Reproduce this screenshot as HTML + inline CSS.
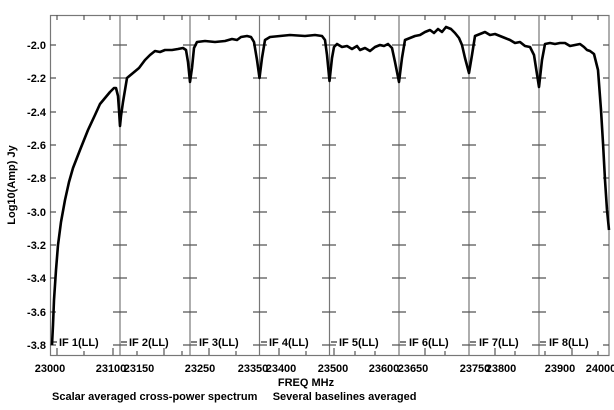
<!DOCTYPE html>
<html><head><meta charset="utf-8"><style>
body{margin:0;background:#fff;}
svg text{font-family:"Liberation Sans",sans-serif;font-weight:bold;fill:#000;}
</style></head><body>
<svg width="614" height="405" viewBox="0 0 614 405" xmlns="http://www.w3.org/2000/svg">
<rect x="0" y="0" width="614" height="405" fill="#fff"/>
<g stroke="#777" stroke-width="1.2" fill="none">
<rect x="50.5" y="15.5" width="558.5" height="340"/>
<line x1="120" y1="15" x2="120" y2="355"/>
<line x1="190" y1="15" x2="190" y2="355"/>
<line x1="259.5" y1="15" x2="259.5" y2="355"/>
<line x1="329.5" y1="15" x2="329.5" y2="355"/>
<line x1="399" y1="15" x2="399" y2="355"/>
<line x1="469" y1="15" x2="469" y2="355"/>
<line x1="539" y1="15" x2="539" y2="355"/>
</g>
<g stroke="#555" stroke-width="1.2">
<path d="M50 45h6M50 78h6M50 112h6M50 145h6M50 178h6M50 212h6M50 245h6M50 278h6M50 312h6M50 345h6
M113 45h14M113 78h14M113 112h14M113 145h14M113 178h14M113 212h14M113 245h14M113 278h14M113 312h14M113 345h14
M183 45h14M183 78h14M183 112h14M183 145h14M183 178h14M183 212h14M183 245h14M183 278h14M183 312h14M183 345h14
M253 45h14M253 78h14M253 112h14M253 145h14M253 178h14M253 212h14M253 245h14M253 278h14M253 312h14M253 345h14
M322 45h14M322 78h14M322 112h14M322 145h14M322 178h14M322 212h14M322 245h14M322 278h14M322 312h14M322 345h14
M392 45h14M392 78h14M392 112h14M392 145h14M392 178h14M392 212h14M392 245h14M392 278h14M392 312h14M392 345h14
M462 45h14M462 78h14M462 112h14M462 145h14M462 178h14M462 212h14M462 245h14M462 278h14M462 312h14M462 345h14
M532 45h14M532 78h14M532 112h14M532 145h14M532 178h14M532 212h14M532 245h14M532 278h14M532 312h14M532 345h14
M603 45h6M603 78h6M603 112h6M603 145h6M603 178h6M603 212h6M603 245h6M603 278h6M603 312h6M603 345h6"/>
<path d="M57 15v5M84 15v5M110 15v5M137 15v5M164 15v5M182 15v5M209 15v5M236 15v5M279 15v5M306 15v5M355 15v5M375 15v5M425 15v5M445 15v5M495 15v5M515 15v5M545 15v5M572 15v5M598 15v5
M57 355v-7M84 355v-4M113 355v-7M137 355v-4M164 355v-7M182 355v-4M209 355v-7M236 355v-4M279 355v-7M306 355v-4M334 355v-7M355 355v-4M375 355v-4M425 355v-7M445 355v-4M495 355v-7M515 355v-4M545 355v-4M572 355v-7M598 355v-4"/>
</g>
<polyline fill="none" stroke="#000" stroke-width="2.6" stroke-linejoin="round" points="
52,345 53,325 54,300 56,270 58,245 61,222 65,200 69,182 73,168 80,150 88,130 95,115 100,104 105,98 110,92 114,88 116,88 118,96 119,110 120,126 121,116 123,102 127,78 133,73 139,68 145,60 150,55 155,51 160,52 165,50 172,50 178,49 183,48 186,50 188,62 190,82 192,68 194,48 197,42 205,41 215,42 225,41 232,39 237,40 241,37 247,36 251,37 254,42 257,60 259.5,78 262,58 265,40 270,37 280,36 290,35 305,36 315,35 322,36 325,40 327,55 329.5,81 332,58 334,47 337,44 342,47 347,46 352,49 357,46 360,50 365,48 370,51 375,47 380,45 384,46 388,44 392,48 395,62 399,82 402,58 405,40 410,38 415,36 420,35 425,32 430,30 434,33 438,29 442,32 446,27 451,29 455,33 459,38 462,45 465,58 469,73 472,55 475,36 480,34 485,32 490,35 495,34 500,36 505,38 510,40 515,43 520,42 525,46 530,47 534,55 539,87 542,60 545,44 550,43 555,44 560,43 565,43 570,46 575,45 580,44 584,47 587,50 590,51 594,54 598,70 601,110 603,143 605,180 607,210 609,230"/>
<g font-size="11">
<text x="46" y="49" text-anchor="end">-2.0</text>
<text x="46" y="82" text-anchor="end">-2.2</text>
<text x="46" y="116" text-anchor="end">-2.4</text>
<text x="46" y="149" text-anchor="end">-2.6</text>
<text x="46" y="182" text-anchor="end">-2.8</text>
<text x="46" y="216" text-anchor="end">-3.0</text>
<text x="46" y="249" text-anchor="end">-3.2</text>
<text x="46" y="282" text-anchor="end">-3.4</text>
<text x="46" y="316" text-anchor="end">-3.6</text>
<text x="46" y="349" text-anchor="end">-3.8</text>
</g>
<text transform="translate(15,185) rotate(-90)" font-size="11" text-anchor="middle">Log10(Amp) Jy</text>
<g font-size="11">
<text x="59" y="346">IF 1(LL)</text>
<text x="129" y="346">IF 2(LL)</text>
<text x="199" y="346">IF 3(LL)</text>
<text x="269" y="346">IF 4(LL)</text>
<text x="339" y="346">IF 5(LL)</text>
<text x="409" y="346">IF 6(LL)</text>
<text x="479" y="346">IF 7(LL)</text>
<text x="549" y="346">IF 8(LL)</text>
</g>
<g stroke="#000" stroke-width="1"><path d="M51 342h6M121 342h6M191 342h6M261 342h6M331 342h6M400 342h6M470 342h6M540 342h6"/></g>
<g font-size="11" text-anchor="middle">
<text x="50" y="372">23000</text>
<text x="111" y="372">23100</text>
<text x="139" y="372">23150</text>
<text x="200" y="372">23250</text>
<text x="253" y="372">23350</text>
<text x="281" y="372">23400</text>
<text x="333" y="372">23500</text>
<text x="384" y="372">23600</text>
<text x="413" y="372">23650</text>
<text x="475" y="372">23750</text>
<text x="501" y="372">23800</text>
<text x="560" y="372">23900</text>
<text x="601" y="372">24000</text>
<text x="306" y="386">FREQ MHz</text>
</g>
<text x="52" y="400" font-size="11" xml:space="preserve">Scalar averaged cross-power spectrum     Several baselines averaged</text>
</svg>
</body></html>
